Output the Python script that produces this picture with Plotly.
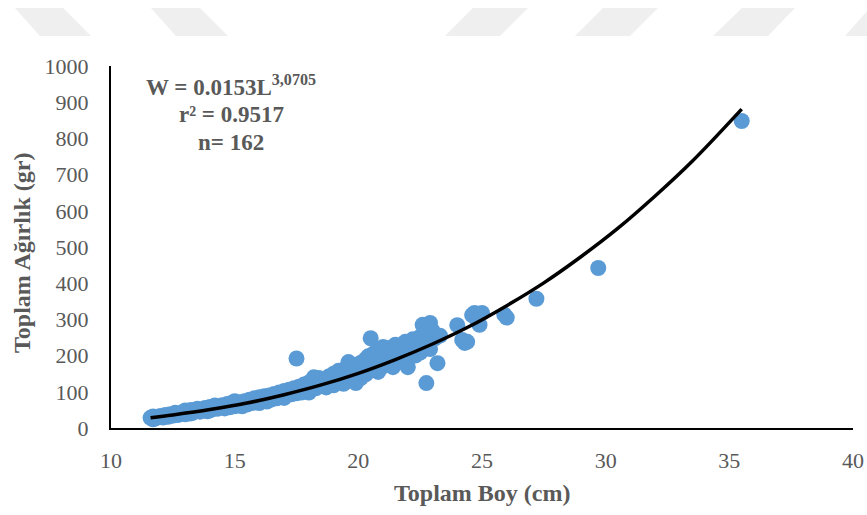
import plotly.graph_objects as go

# ---- data ----
length_cm = [
    11.6, 11.7, 11.7, 11.8, 11.9, 12.0, 12.1, 12.2, 12.3, 12.4, 12.5, 12.6, 12.7, 12.8, 12.9, 13.0, 13.0,
    13.1, 13.2, 13.2, 13.3, 13.3, 13.4, 13.5, 13.6, 13.7, 13.8, 13.9, 14.0, 14.0, 14.1, 14.2, 14.3, 14.4,
    14.5, 14.6, 14.7, 14.8, 14.9, 15.0, 15.0,
    15.1, 15.2, 15.3, 15.4, 15.5, 15.6, 15.7, 15.8, 15.9, 16.0, 16.0, 16.1, 16.2, 16.2, 16.3, 16.4, 16.5,
    16.6, 16.7, 16.8, 16.8, 16.9, 17.0, 17.0, 17.1, 17.2,
    17.3, 17.4, 17.5, 17.5, 17.6, 17.7, 17.8, 17.9, 18.0, 18.0, 18.1, 18.2, 18.3, 18.4, 18.5, 18.5, 18.6,
    18.7, 18.8, 18.9, 19.0, 19.0, 19.1, 19.2, 19.3, 19.4, 19.5,
    19.5, 19.6, 19.6, 19.7, 19.8, 19.9, 19.9, 20.0, 20.0, 20.1, 20.1, 20.2, 20.3, 20.3, 20.4, 20.5, 20.5,
    20.6, 20.7, 20.8, 20.8, 20.9, 21.0, 21.0, 21.1, 21.2, 21.3, 21.3, 21.4, 21.5, 21.5,
    21.6, 21.7, 21.8, 21.9, 22.0, 22.0, 22.1, 22.2, 22.2, 22.3, 22.4, 22.5, 22.5, 22.6, 22.7, 22.75, 22.8,
    22.9, 22.9, 23.0, 23.1, 23.2, 23.3,
    24.0, 24.2, 24.3, 24.4, 24.6, 24.7, 24.8, 24.9, 25.0, 25.9, 26.0, 27.2, 29.7, 35.5,
]
weight_g = [
    28, 24, 32, 27, 30, 33, 29, 36, 31, 38, 34, 42, 36, 39, 44, 38, 48,
    45, 40, 49, 50, 42, 47, 53, 45, 50, 55, 46, 58, 49, 52, 62, 53, 58,
    63, 54, 66, 57, 70, 60, 74,
    66, 71, 60, 74, 65, 78, 69, 82, 71, 85, 69, 78, 88, 76, 73, 90, 79,
    94, 82, 98, 85, 88, 102, 83, 92, 106,
    93, 110, 96, 192, 114, 98, 120, 102, 126, 98, 108, 140, 110, 138, 116, 132, 128,
    112, 142, 120, 150, 118, 130, 158, 134, 122, 165,
    130, 145, 182, 168, 136, 124, 175, 150, 162, 180, 138, 166, 190, 148, 198, 248, 160,
    205, 172, 218, 155, 195, 224, 170, 210, 182, 222, 190, 168, 208, 230,
    185, 225, 195, 238, 205, 168, 228, 245, 212, 200, 232, 252, 208, 285, 240, 124, 262,
    218, 290, 268, 248, 179, 255,
    284, 243, 235, 238, 312, 318, 300, 285, 318, 313, 305, 357, 442, 848,
]

# power trendline W = 0.0153 L^3.0705
curve_len = [11.6, 12.5, 14, 15.5, 17, 18.5, 20, 21.5, 23, 24.5, 26, 27.5, 29, 30.5, 32, 33.5, 35.5]
curve_wt = [28, 36, 51, 69, 92, 119, 151, 189, 232, 281, 338, 401, 473, 552, 641, 737, 881]

x_ticks = [10, 15, 20, 25, 30, 35, 40]
y_ticks = [0, 100, 200, 300, 400, 500, 600, 700, 800, 900, 1000]

eq_line1 = "W = 0.0153L<sup>3,0705</sup>"
eq_line2 = "r² = 0.9517"
eq_line3 = "n= 162"
x_title = "Toplam Boy (cm)"
y_title = "Toplam Ağırlık (gr)"

# ---- styling ----
W, H = 867, 515
L_M, R_M, T_M, B_M = 111, 14, 66, 87
PW, PH = W - L_M - R_M, H - T_M - B_M
GREY = "#595959"
SERIF = "Liberation Serif, Times New Roman, serif"


def px2paper(px, py):
    return (px - L_M) / PW, (H - B_M - py) / PH


fig = go.Figure()
fig.add_trace(go.Scatter(
    x=length_cm, y=weight_g, mode="markers",
    marker=dict(size=16, color="#5b9bd5", line=dict(width=0)),
    showlegend=False, hoverinfo="x+y",
))
fig.add_trace(go.Scatter(
    x=curve_len, y=curve_wt, mode="lines",
    line=dict(color="black", width=3.5, shape="spline"),
    showlegend=False, hoverinfo="skip",
))

# faint watermark chevrons at the top of the page
chevrons = [
    [(15, 8), (63, 8), (91, 36), (40, 36)],
    [(151, 8), (200, 8), (228, 36), (176, 36)],
    [(473, 8), (528, 8), (500, 36), (445, 36)],
    [(603, 8), (658, 8), (630, 36), (575, 36)],
    [(742, 8), (795, 8), (768, 36), (713, 36)],
    [(870, 8), (925, 8), (900, 36), (845, 36)],
]
shapes = []
for poly in chevrons:
    pts = [px2paper(a, b) for a, b in poly]
    path = "M " + " L ".join(f"{a:.4f},{b:.4f}" for a, b in pts) + " Z"
    shapes.append(dict(type="path", path=path, xref="paper", yref="paper",
                       fillcolor="#efefef", line=dict(width=0), layer="below"))

annotations = []
for txt, py in [(eq_line1, 86), (eq_line2, 114), (eq_line3, 142)]:
    ax, ay = px2paper(231, py)
    annotations.append(dict(text=f"<b>{txt}</b>", x=ax, y=ay, xref="paper", yref="paper",
                            xanchor="center", yanchor="middle", showarrow=False,
                            font=dict(family=SERIF, size=23, color=GREY)))
ax, ay = px2paper(482, 493)
annotations.append(dict(text=f"<b>{x_title}</b>", x=ax, y=ay, xref="paper", yref="paper",
                        xanchor="center", yanchor="middle", showarrow=False,
                        font=dict(family=SERIF, size=24, color=GREY)))
ax, ay = px2paper(22, 253)
annotations.append(dict(text=f"<b>{y_title}</b>", x=ax, y=ay, xref="paper", yref="paper",
                        xanchor="center", yanchor="middle", showarrow=False, textangle=-90,
                        font=dict(family=SERIF, size=24, color=GREY)))

fig.update_layout(
    width=W, height=H,
    margin=dict(l=L_M, r=R_M, t=T_M, b=B_M, pad=0, autoexpand=False),
    paper_bgcolor="white", plot_bgcolor="white",
    shapes=shapes, annotations=annotations,
    xaxis=dict(range=[10, 40], tickvals=x_ticks, ticktext=[str(v) for v in x_ticks],
               showgrid=False, zeroline=False, showline=True, linecolor="black", linewidth=2,
               ticks="", ticklabelstandoff=12, automargin=False,
               tickfont=dict(family=SERIF, size=22, color=GREY)),
    yaxis=dict(range=[0, 1000], tickvals=y_ticks, ticktext=[str(v) for v in y_ticks],
               showgrid=False, zeroline=False, showline=True, linecolor="black", linewidth=2,
               ticks="", ticklabelstandoff=16, automargin=False,
               tickfont=dict(family=SERIF, size=22, color=GREY)),
)

fig.write_html("out.html")
